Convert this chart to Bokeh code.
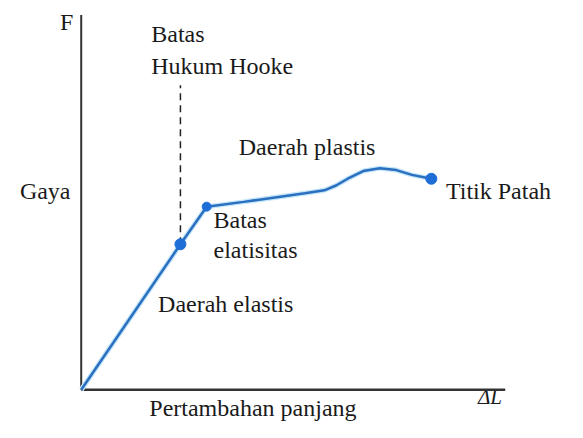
from bokeh.plotting import figure
from bokeh.models import Range1d
from bokeh.core.properties import value
from bokeh.embed import file_html
from bokeh.resources import INLINE

# stress-strain style curve (schematic units)
curve_x = [0, 102, 129, 167, 230, 250, 262, 274, 290, 307, 324, 340, 360]
curve_y = [0, 151, 190, 195, 204, 207, 212, 219, 227, 230, 228, 223, 219]

# marked points: Hooke limit, elastic limit, break point
pt_x = [102, 129, 360]
pt_y = [151, 190, 219]
pt_size = [11, 9, 11]

# Hooke limit dashed guide
hooke_x = [102, 102]
hooke_y = [151, 316]

# axes extents
axis_top = 389
axis_right = 436

# labels
lab_text = ["Batas", "Hukum Hooke", "Daerah plastis", "Titik Patah",
            "Batas", "elatisitas", "Daerah elastis", "Pertambahan panjang"]
lab_x = [72, 72, 162, 375, 136, 136, 79, 70]
lab_y = [367, 334, 249, 204, 174, 143, 86, -21]

rlab_text = ["F", "Gaya"]
rlab_x = [-8, -11]
rlab_y = [379, 204]

p = figure(width=567, height=422, output_backend="svg", toolbar_location=None,
           x_range=Range1d(-83, 500), y_range=Range1d(-34, 404), min_border=0)
p.axis.visible = False
p.grid.visible = False
p.outline_line_color = None

# texts first
for t, x, y in zip(lab_text, lab_x, lab_y):
    p.text(x=[x], y=[y - 11], text=[t], text_font=value("serif"),
           text_font_size="24px", text_color="#1a1a1a")
for t, x, y in zip(rlab_text, rlab_x, rlab_y):
    p.text(x=[x], y=[y - 11], text=[t], text_font=value("serif"),
           text_font_size="24px", text_align="right", text_color="#1a1a1a")
p.text(x=[408], y=[-20], text=["ΔL"], text_font=value("serif"),
       text_font_size="21px", text_font_style="italic", text_color="#1a1a1a")

# axes lines
p.line([0, 0], [0, axis_top], line_color="#333333", line_width=2)
p.line([0, axis_right], [0, 0], line_color="#333333", line_width=2.5)

# dashed Hooke guide
p.line(hooke_x, hooke_y, line_color="#222222", line_width=1.5, line_dash="7 5")

# curve glow + curve
p.line(curve_x, curve_y, line_color="#c4e6f8", line_width=5)
p.line(curve_x, curve_y, line_color="#2a6fc0", line_width=2.5)
p.scatter(pt_x, pt_y, size=pt_size, fill_color="#1f6ed8", line_color="#1f6ed8")

open("out.html", "w").write(file_html(p, INLINE))
